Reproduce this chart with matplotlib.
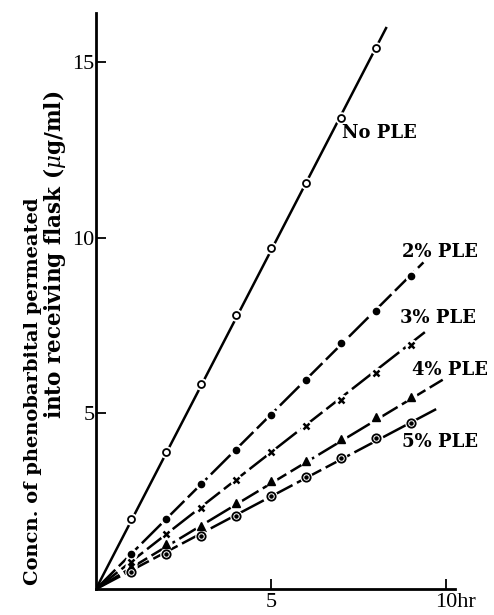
import numpy as np
import matplotlib.pyplot as plt
import matplotlib.transforms as mtransforms

plt.rcParams['font.family'] = ['Liberation Serif', 'DejaVu Serif']
plt.rcParams['mathtext.fontset'] = 'dejavuserif'

# data (time in hr, concn. in ug/ml)
t = [0, 1, 2, 3, 4, 5, 6, 7, 8, 9]
no_ple = [0, 2.0, 3.9, 5.85, 7.8, 9.7, 11.55, 13.4, 15.4]
ple2 = [0, 1.0, 2.0, 3.0, 3.97, 4.95, 5.95, 7.0, 7.93, 8.9]
ple3 = [0, 0.78, 1.56, 2.3, 3.1, 3.9, 4.63, 5.37, 6.14, 6.96]
ple4 = [0, 0.62, 1.28, 1.79, 2.44, 3.07, 3.64, 4.26, 4.91, 5.48]
ple5 = [0, 0.48, 1.0, 1.5, 2.07, 2.64, 3.18, 3.72, 4.29, 4.74]

# where each fitted line stops
line_end_t = [8.3, 9.35, 9.5, 9.9, 9.8]
line_end_c = [16.0, 9.3, 7.4, 5.96, 5.17]

labels = ["No PLE", "2% PLE", "3% PLE", "4% PLE", "5% PLE"]
label_pos = [(7.03, 12.98), (8.74, 9.6), (8.69, 7.73), (9.03, 6.25), (8.74, 4.2)]

fig = plt.figure(figsize=(4.94, 6.15), dpi=100)
ax = fig.add_axes([0.194, 0.042, 0.727, 0.937])

series = [no_ple, ple2, ple3, ple4, ple5]
styles = ["-", (0, (11, 2)), (0, (11, 2)), (0, (11, 2)), (0, (11, 2))]
for i, ys in enumerate(series):
    ax.plot([0, line_end_t[i]], [0, line_end_c[i]], color="black", lw=1.8,
            linestyle=styles[i], solid_capstyle="butt", zorder=2)
    tt = t[1:len(ys)]
    # white halo so the line breaks around each mark
    ax.plot(tt, ys[1:], "o", ms=8, color="white", zorder=3)

    if i == 0:
        ax.plot(tt, ys[1:], "o", ms=5, mfc="white", mec="black", mew=1.3, zorder=4)
    elif i == 1:
        ax.plot(tt, ys[1:], "o", ms=4.5, color="black", zorder=4)
    elif i == 2:
        ax.plot(tt, ys[1:], "x", ms=5, mew=1.8, color="black", zorder=4)
    elif i == 3:
        ax.plot(tt, ys[1:], "^", ms=6, color="black", zorder=4)
    else:
        ax.plot(tt, ys[1:], "o", ms=6, mfc="white", mec="black", mew=1.3, zorder=4)
        ax.plot(tt, ys[1:], "o", ms=2.2, color="black", zorder=5)

for lab, (x, y) in zip(labels, label_pos):
    ax.text(x, y, lab, fontsize=13, fontweight="bold", family="DejaVu Serif",
            va="center", ha="left")

ax.set_xlim(0, 10.25)
ax.set_ylim(0, 16.4)
ax.spines["top"].set_visible(False)
ax.spines["right"].set_visible(False)
ax.spines["left"].set_linewidth(2)
ax.spines["bottom"].set_linewidth(2)
ax.set_xticks([5, 10])
ax.set_xticklabels(["5", "10hr"])
ax.set_yticks([5, 10, 15])
ax.set_yticklabels(["5", "10", "15"])
ax.tick_params(direction="in", length=7, width=1.3, labelsize=16, pad=3)
ax.tick_params(axis="y", pad=1)

# keep "10" centred on its tick, "hr" runs on to the right
lbl10 = ax.get_xticklabels()[1]
lbl10.set_horizontalalignment("left")
lbl10.set_transform(lbl10.get_transform() +
                    mtransforms.ScaledTranslation(-11 / 100, 0, fig.dpi_scale_trans))

fig.text(33 / 494, 1 - 391 / 615, "Concn. of phenobarbital permeated", rotation=90,
         fontsize=14, fontweight="bold", family="DejaVu Serif",
         ha="center", va="center")
fig.text(55 / 494, 1 - 255 / 615, r"into receiving flask ($\mu$g/ml)", rotation=90,
         fontsize=15.5, fontweight="bold", family="DejaVu Serif",
         ha="center", va="center")

fig.savefig("out.png", dpi=100)
